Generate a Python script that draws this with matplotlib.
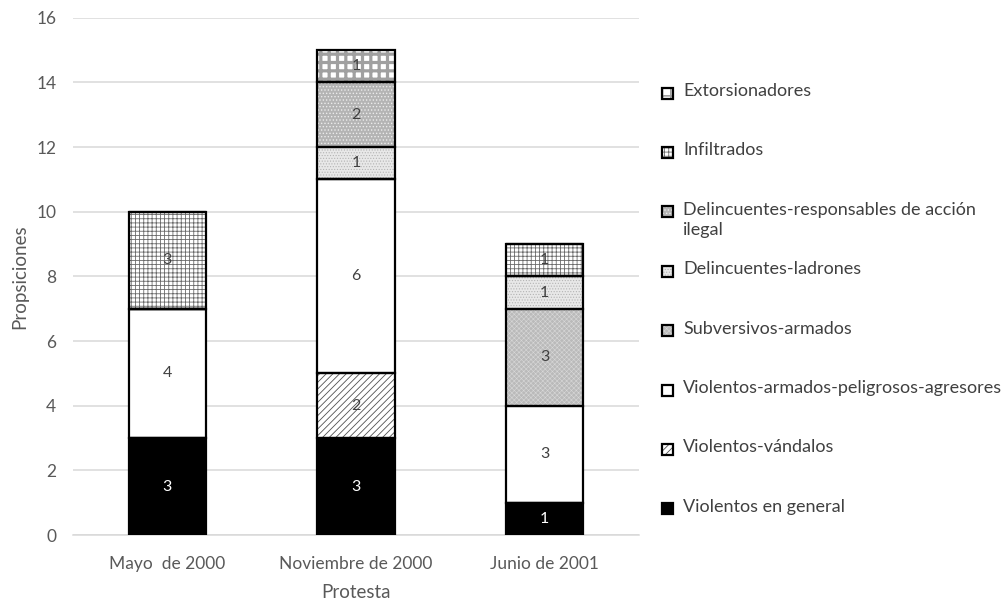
import textwrap
import numpy as np
import matplotlib
matplotlib.use("Agg")
import matplotlib.pyplot as plt
from matplotlib.patches import Rectangle

# ---------------- data ----------------
categories = ["Mayo  de 2000", "Noviembre de 2000", "Junio de 2001"]
series_names = [
    "Violentos en general",
    "Violentos-vándalos",
    "Violentos-armados-peligrosos-agresores",
    "Subversivos-armados",
    "Delincuentes-ladrones",
    "Delincuentes-responsables de acción ilegal",
    "Infiltrados",
    "Extorsionadores",
]
violentos_general = [3, 3, 1]
violentos_vandalos = [0, 2, 0]
violentos_armados = [4, 6, 3]
subversivos_armados = [0, 0, 3]
delincuentes_ladrones = [0, 1, 1]
delincuentes_responsables = [0, 2, 0]
infiltrados = [3, 0, 1]
extorsionadores = [0, 1, 0]
series_values = [violentos_general, violentos_vandalos, violentos_armados,
                 subversivos_armados, delincuentes_ladrones,
                 delincuentes_responsables, infiltrados, extorsionadores]
y_ticks = [0, 2, 4, 6, 8, 10, 12, 14, 16]
x_label = "Protesta"
y_label = "Propsiciones"

# ---------------- styles ----------------
# (facecolor, hatch, hatch colour, hatch linewidth, label colour)
styles = [
    ("#000000", None, "#000000", 0.8, "white"),
    ("#ffffff", "/////", "#505050", 0.6, "#404040"),
    ("#ffffff", None, "#000000", 0.8, "#404040"),
    ("#bababa", "xxxxxxx", "#d8d8d8", 0.4, "#404040"),
    ("#e8e8e8", "......", "#b4b4b4", 0.5, "#404040"),
    ("#b4b4b4", ".....", "#ececec", 0.6, "#404040"),
    ("#ffffff", "++++", "#6a6a6a", 0.6, "#404040"),
    ("#ffffff", "++", "#a0a0a0", 2.3, "#404040"),
]

W, H, DPI = 1003, 600, 100
FONT = ["Lato", "DejaVu Sans"]
plt.rcParams["font.family"] = FONT
fig = plt.figure(figsize=(W / DPI, H / DPI), dpi=DPI)
ax = fig.add_axes([73 / W, 1 - 535 / H, (639 - 73) / W, (535 - 17.7) / H])

x = np.arange(len(categories))
width = 0.41
bottom = np.zeros(len(categories))
for name, vals, st in zip(series_names, series_values, styles):
    fc, hatch, hc, hlw, tc = st
    vals = np.array(vals, dtype=float)
    with plt.rc_context({"hatch.linewidth": hlw}):
        bars = ax.bar(x, vals, width, bottom=bottom, color=fc, hatch=hatch,
                      edgecolor=hc, linewidth=0, zorder=2)
        for b in bars:
            if hasattr(b, "set_hatch_linewidth"):
                b.set_hatch_linewidth(hlw)
    ax.bar(x, vals, width, bottom=bottom, fill=False, edgecolor="black",
           linewidth=1.6, zorder=3)
    for xi, v, b0 in zip(x, vals, bottom):
        if v > 0:
            ax.text(xi, b0 + v / 2, f"{int(v)}", ha="center", va="center",
                    fontsize=11.5, color=tc, zorder=4)
    bottom += vals

ax.set_xlim(-0.5, len(categories) - 0.5)
ax.set_ylim(0, 16)
ax.set_yticks(y_ticks)
ax.set_xticks(x)
ax.set_xticklabels(categories)
ax.tick_params(axis="both", length=0, labelsize=12.5, colors="#595959")
ax.tick_params(axis="y", pad=12)
ax.tick_params(axis="x", pad=15)
ax.grid(axis="y", color="#d9d9d9", linewidth=1.1, zorder=0)
ax.set_axisbelow(True)
for s in ["top", "right", "left"]:
    ax.spines[s].set_visible(False)
ax.spines["bottom"].set_color("#d9d9d9")
ax.spines["bottom"].set_linewidth(1.1)
ax.set_xlabel(x_label, fontsize=13.5, color="#595959", labelpad=9)
ax.set_ylabel(y_label, fontsize=13.5, color="#595959", labelpad=6)

# ---------------- legend (manual, top entry = last series) ----------------
top_y, step = 93, 59.4
sq = 11
for i, (name, st) in enumerate(zip(series_names[::-1], styles[::-1])):
    fc, hatch, hc, hlw, tc = st
    yc = top_y + i * step
    legend_hlw = min(hlw, 1.2)
    with plt.rc_context({"hatch.linewidth": legend_hlw}):
        r = Rectangle((662 / W, 1 - (yc + sq / 2) / H), sq / W, sq / H,
                      transform=fig.transFigure, facecolor=fc,
                      hatch=hatch, edgecolor=hc, linewidth=0)
        if hasattr(r, "set_hatch_linewidth"):
            r.set_hatch_linewidth(legend_hlw)
    fig.add_artist(r)
    fig.add_artist(Rectangle((662 / W, 1 - (yc + sq / 2) / H), sq / W, sq / H,
                             transform=fig.transFigure, fill=False,
                             edgecolor="black", linewidth=1.6))
    txt = textwrap.fill(name, 36, break_on_hyphens=False,
                        break_long_words=False)
    fig.text(683 / W, 1 - (yc - 10) / H, txt, ha="left", va="top",
             fontsize=13, color="#404040", linespacing=1.3)

fig.savefig("out.png", dpi=DPI)
